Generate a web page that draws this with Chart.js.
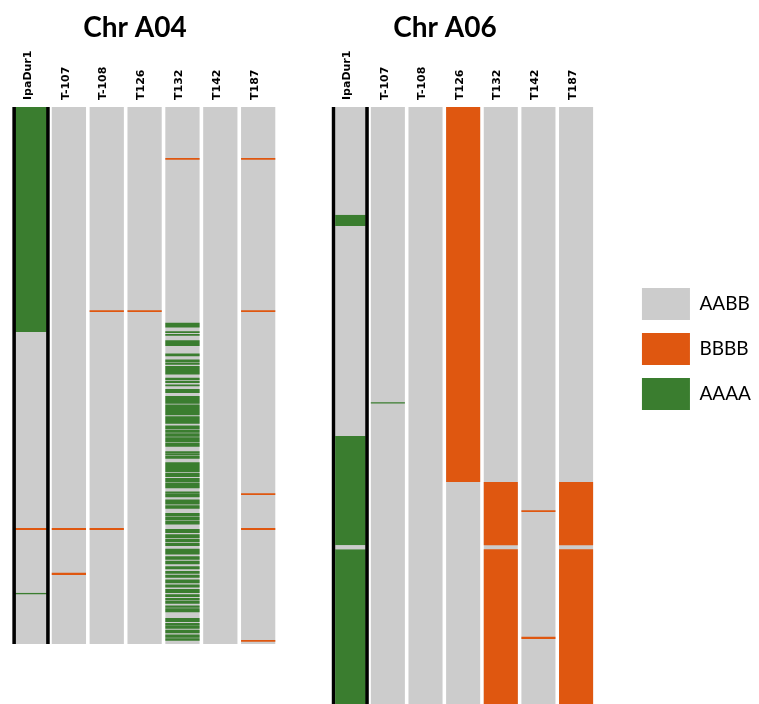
<!DOCTYPE html>
<html>
<head>
<meta charset="utf-8">
<script src="https://cdn.jsdelivr.net/npm/chart.js@4.4.1/dist/chart.umd.min.js"></script>
<style>
  html, body { margin: 0; padding: 0; background: #fff; overflow: hidden; }
  #wrap { position: relative; width: 759px; height: 704px; overflow: hidden; background: #fff; }
  canvas { position: absolute; }
  #a04 { left: -10px; top: 0; }
  #a06 { left: 129px; top: -6px; }
</style>
</head>
<body>
<div id="wrap">
  <canvas id="a04" width="300" height="704"></canvas>
  <canvas id="a06" width="640" height="710"></canvas>
</div>
<script>
// Lines genotyped along each chromosome (columns, left to right)
const samples = ['IpaDur1', 'T-107', 'T-108', 'T126', 'T132', 'T142', 'T187'];
const genotypes = ['AABB', 'BBBB', 'AAAA'];
const genotypeColors = ['#cccccc', '#df5710', '#3a7d2f'];

// Chromosome lengths (Mb); AABB is the background genotype along each column
const a04Length = 120;
const a06Length = 133.4;

// Intervals [line, start Mb, end Mb] that are not AABB
const a04BBBB = [
  ['IpaDur1', 94.1, 94.5],
  ['T-107', 94.1, 94.5], ['T-107', 104.1, 104.6],
  ['T-108', 45.4, 45.8], ['T-108', 94.1, 94.5],
  ['T126', 45.4, 45.8],
  ['T132', 11.4, 11.8],
  ['T187', 11.4, 11.8], ['T187', 45.4, 45.8], ['T187', 86.3, 86.7],
  ['T187', 94.1, 94.5], ['T187', 119.1, 119.5]
];
const a04AAAA = [
  ['IpaDur1', 0, 50.3], ['IpaDur1', 108.55, 108.95],
  ['T132', 48.2, 49.3], ['T132', 50.1, 50.5], ['T132', 50.7, 51.1], ['T132', 52.1, 53.4],
  ['T132', 55.1, 55.7], ['T132', 56.4, 57.0], ['T132', 57.1, 57.6], ['T132', 57.9, 59.8],
  ['T132', 60.5, 61.0], ['T132', 61.2, 61.7], ['T132', 62.0, 62.4], ['T132', 63.0, 63.9],
  ['T132', 64.6, 66.3], ['T132', 66.5, 68.9], ['T132', 69.1, 70.8], ['T132', 71.2, 72.0],
  ['T132', 72.1, 72.8], ['T132', 72.9, 73.7], ['T132', 73.8, 74.9], ['T132', 75.0, 75.9],
  ['T132', 76.9, 77.3], ['T132', 77.4, 77.9], ['T132', 78.0, 78.6], ['T132', 79.4, 81.6],
  ['T132', 81.8, 82.7], ['T132', 82.9, 83.8], ['T132', 83.9, 85.2], ['T132', 85.9, 86.4],
  ['T132', 86.5, 87.2], ['T132', 87.7, 88.8], ['T132', 89.0, 89.8], ['T132', 90.7, 91.5],
  ['T132', 91.6, 92.4], ['T132', 92.5, 93.3], ['T132', 94.3, 95.2], ['T132', 95.5, 96.3],
  ['T132', 96.5, 97.2], ['T132', 97.4, 98.1], ['T132', 98.7, 100.0], ['T132', 100.4, 101.2],
  ['T132', 101.4, 102.2], ['T132', 102.6, 103.3], ['T132', 103.7, 104.3], ['T132', 104.5, 105.2],
  ['T132', 105.6, 106.4], ['T132', 106.7, 107.4], ['T132', 107.7, 108.6], ['T132', 108.9, 109.5],
  ['T132', 109.7, 110.3], ['T132', 110.4, 111.0], ['T132', 111.4, 111.9], ['T132', 112.0, 112.9],
  ['T132', 114.2, 115.1], ['T132', 115.3, 115.9], ['T132', 116.0, 116.6], ['T132', 116.8, 117.6],
  ['T132', 117.9, 118.6], ['T132', 118.7, 119.3]
];
const a06BBBB = [
  ['T126', 0, 83.8],
  ['T132', 83.8, 97.9], ['T132', 98.8, 133.4],
  ['T142', 90.1, 90.5], ['T142', 118.4, 118.9],
  ['T187', 83.8, 97.9], ['T187', 98.8, 133.4]
];
const a06AAAA = [
  ['IpaDur1', 24.1, 26.6], ['IpaDur1', 73.5, 97.9], ['IpaDur1', 98.8, 133.4],
  ['T-107', 66.0, 66.25]
];

Chart.defaults.font.family = 'Lato';
Chart.defaults.color = '#000';

const toPoints = list => list.map(([line, start, end]) => ({ x: line, y: [start, end] }));

// The reference line (first column) is framed in black
const frameBorder = ctx => (ctx.raw && ctx.raw.x === samples[0])
  ? { left: 2, right: 2, top: 0, bottom: 0 } : 0;

function genotypeDataset(i, points, order) {
  return {
    label: genotypes[i],
    data: points,
    backgroundColor: genotypeColors[i],
    borderColor: '#000',
    borderWidth: frameBorder,
    borderSkipped: false,
    grouped: false,
    categoryPercentage: 1,
    barPercentage: 0.905,
    inflateAmount: 0,
    order
  };
}

function panelDatasets(length, bbbb, aaaa) {
  return [
    {
      label: '',
      data: [{ x: samples[0], y: [0, length] }],
      backgroundColor: '#000',
      borderWidth: 0,
      grouped: false,
      categoryPercentage: 1,
      barPercentage: 0.987,
      inflateAmount: 0,
      order: 3
    },
    genotypeDataset(0, samples.map(s => ({ x: s, y: [0, length] })), 2),
    genotypeDataset(1, toPoints(bbbb), 1),
    genotypeDataset(2, toPoints(aaaa), 0)
  ];
}

const hiddenAxis = (position, widthFn) => ({
  type: 'linear',
  position,
  display: true,
  ticks: { display: false },
  grid: { display: false },
  border: { display: false },
  afterFit: s => { s.width = widthFn(s); }
});

function panelOptions(cfg) {
  const scales = {
    x: {
      type: 'category',
      labels: samples,
      position: 'top',
      offset: true,
      grid: { display: false, drawTicks: false, tickLength: 0 },
      border: { display: false },
      ticks: {
        autoSkip: false,
        minRotation: 90,
        maxRotation: 90,
        padding: 7,
        labelOffset: 10,
        color: '#000',
        font: { family: 'DejaVu Sans', size: 11, weight: 'bold' }
      },
      afterFit: s => { s.height = 62.4; }
    },
    y: Object.assign(hiddenAxis('left', () => cfg.leftAxis), {
      reverse: true, min: 0, max: cfg.length
    })
  };
  if (cfg.rightAxis) scales.yRight = hiddenAxis('right', cfg.rightAxis);
  return {
    responsive: false,
    animation: false,
    events: [],
    layout: { padding: cfg.padding },
    scales,
    plugins: {
      tooltip: { enabled: false },
      title: {
        display: true,
        text: cfg.title,
        color: '#000',
        font: { family: 'Lato', size: 28, weight: 'bold' },
        padding: { top: cfg.titleTop, bottom: 0 }
      },
      legend: cfg.legend
    }
  };
}

new Chart(document.getElementById('a04'), {
  type: 'bar',
  data: { datasets: panelDatasets(a04Length, a04BBBB, a04AAAA) },
  options: panelOptions({
    title: 'Chr A04',
    length: a04Length,
    titleTop: 11,
    leftAxis: 19.2,
    padding: { left: 2.9, right: 12.9, top: 0, bottom: 60 },
    legend: { display: false }
  })
});

const A06_PAD_R = 8.1;
const A06_AREA_RIGHT = 465.9;
const defaultLabels = Chart.defaults.plugins.legend.labels.generateLabels;
new Chart(document.getElementById('a06'), {
  type: 'bar',
  data: { datasets: panelDatasets(a06Length, a06BBBB, a06AAAA) },
  options: panelOptions({
    title: 'Chr A06',
    length: a06Length,
    titleTop: 17,
    leftAxis: 202.4,
    rightAxis: s => Math.max(0, s.chart.width - A06_PAD_R - s.chart.legend.width - A06_AREA_RIGHT),
    padding: { left: 0, right: A06_PAD_R, top: 0, bottom: 0 },
    legend: {
      display: true,
      position: 'right',
      align: 'center',
      maxWidth: 300,
      labels: {
        boxWidth: 48,
        boxHeight: 32,
        padding: 13,
        color: '#000',
        font: { family: 'Lato', size: 19 },
        generateLabels: chart => defaultLabels(chart)
          .filter(item => item.text !== '')
          .map(item => Object.assign(item, { lineWidth: 0 })),
        sort: (a, b) => genotypes.indexOf(a.text) - genotypes.indexOf(b.text)
      }
    }
  })
});
</script>
</body>
</html>
